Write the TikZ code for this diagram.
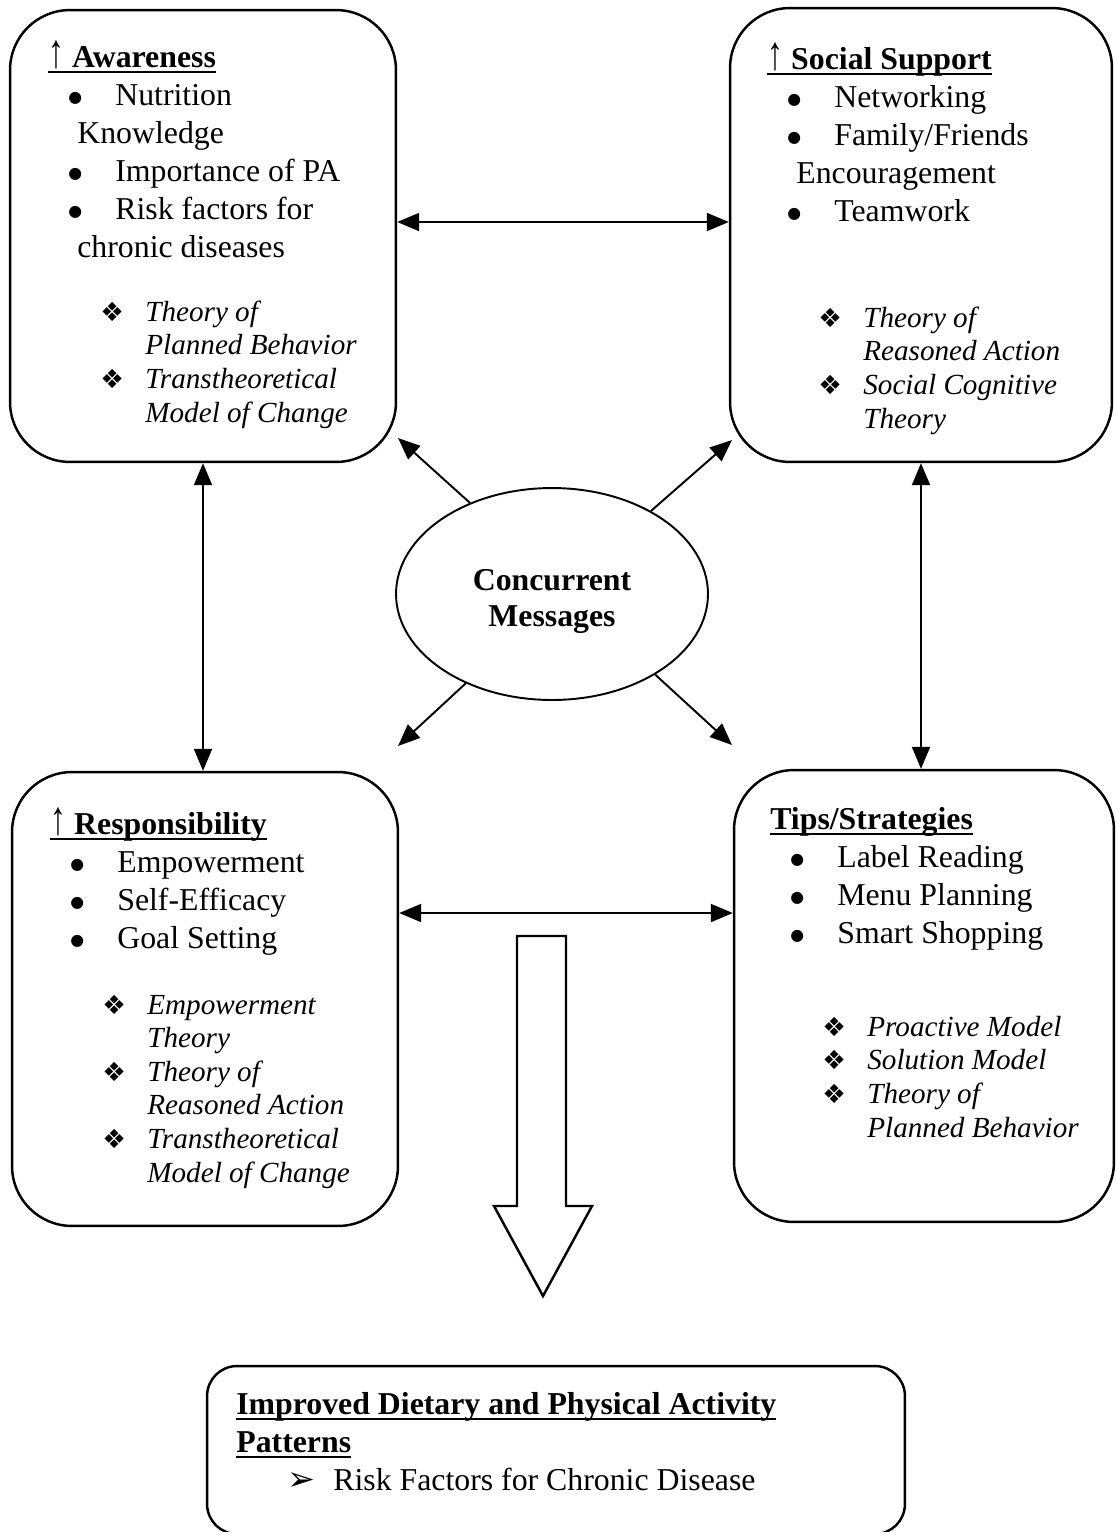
\documentclass[tikz,border=0pt]{standalone}
\usepackage{fontspec}
\setmainfont{Liberation Serif}
\newfontfamily\dingfont{DejaVu Sans}
\usetikzlibrary{positioning, arrows.meta, shapes.geometric}

\newcommand{\head}[1]{\textbf{\setbox0=\hbox{#1}\rlap{\rule[-3.4pt]{\wd0}{1.2pt}}\box0}}
\newcommand{\up}{{\mdseries\scalebox{1}[1.5]{↑}}}
\newcommand{\bdot}{\raisebox{1.6pt}{\dingfont\fontsize{9}{9}\selectfont ●}}
\newcommand{\bul}[1]{\hspace*{0.4cm}\makebox[0.94cm][l]{\bdot}#1}
\newcommand{\dia}{{\dingfont\fontsize{15}{15}\selectfont ❖}}
\newcommand{\thy}[1]{\makebox[0.9cm][l]{\dia}#1}

\begin{document}
\begin{tikzpicture}[x=0.02cm, y=-0.02cm,
  panel/.style={draw, line width=1.4pt, rounded corners=1.2cm},
  maintext/.style={anchor=base west, inner sep=0pt, align=left, font=\fontsize{18.1}{21.6}\selectfont},
  theorytext/.style={anchor=base west, inner sep=0pt, align=left, font=\fontsize{16.6}{19.1}\selectfont\itshape},
  dbl/.style={{Triangle[length=4.4mm, width=3.6mm]}-{Triangle[length=4.4mm, width=3.6mm]}, line width=1.1pt},
  arr/.style={-{Triangle[length=4.4mm, width=3.6mm]}, line width=1.1pt}]
  \useasboundingbox (0,0) rectangle (1116,1532);

  % the four panels
  \node[panel, minimum width=7.72cm, minimum height=9.04cm] (aware) at (203,236) {};
  \node[panel, minimum width=7.64cm, minimum height=9.08cm] (social) at (921,235) {};
  \node[panel, minimum width=7.72cm, minimum height=9.08cm] (resp) at (205,999) {};
  \node[panel, minimum width=7.60cm, minimum height=9.04cm] (tips) at (924,996) {};
  \node[panel, rounded corners=0.6cm, minimum width=13.96cm, minimum height=3.36cm] (result) at (556,1450) {};

  % panel texts (placed at the baseline of their last line)
  \node[maintext] (awaretxt) at (48,257) {\head{\up\ Awareness}\\ \bul{Nutrition}\\ \hspace*{0.58cm}Knowledge\\ \bul{Importance of PA}\\ \bul{Risk factors for}\\ \hspace*{0.58cm}chronic diseases};
  \node[theorytext] (awarethy) at (100,422) {\thy{Theory of}\\ \hspace*{0.9cm}Planned Behavior\\ \thy{Transtheoretical}\\ \hspace*{0.9cm}Model of Change};

  \node[maintext] (socialtxt) at (767,221) {\head{\up\ Social Support}\\ \bul{Networking}\\ \bul{Family/Friends}\\ \hspace*{0.58cm}Encouragement\\ \bul{Teamwork}};
  \node[theorytext] (socialthy) at (818,428) {\thy{Theory of}\\ \hspace*{0.9cm}Reasoned Action\\ \thy{Social Cognitive}\\ \hspace*{0.9cm}Theory};

  \node[maintext] (resptxt) at (50,948) {\head{\up\ Responsibility}\\ \bul{Empowerment}\\ \bul{Self-Efficacy}\\ \bul{Goal Setting}};
  \node[theorytext] (respthy) at (102,1182) {\thy{Empowerment}\\ \hspace*{0.9cm}Theory\\ \thy{Theory of}\\ \hspace*{0.9cm}Reasoned Action\\ \thy{Transtheoretical}\\ \hspace*{0.9cm}Model of Change};

  \node[maintext] (tipstxt) at (770,943) {\head{Tips/Strategies}\\ \bul{Label Reading}\\ \bul{Menu Planning}\\ \bul{Smart Shopping}};
  \node[theorytext] (tipsthy) at (822,1137) {\thy{Proactive Model}\\ \thy{Solution Model}\\ \thy{Theory of}\\ \hspace*{0.9cm}Planned Behavior};

  \node[maintext] (resulttxt) at (236,1490) {\head{Improved Dietary and Physical Activity}\\ \head{Patterns}\\ \hspace*{1.02cm}\makebox[0.92cm][l]{\dingfont\fontsize{19}{19}\selectfont ➢}Risk Factors for Chronic Disease};

  % centre
  \node[ellipse, draw, line width=1.1pt, minimum width=6.24cm, minimum height=4.24cm] (msg) at (552,594) {};
  \node[align=center, font=\fontsize{18.1}{20.5}\selectfont\bfseries] (msgtxt) at (552,601) {Concurrent\\Messages};

  \coordinate (ul) at (398,438);
  \coordinate (ur) at (732,440);
  \coordinate (ll) at (398,746);
  \coordinate (lr) at (732,745);

  % connectors
  \draw[dbl] ([yshift=0.28cm]aware.east) -- ([yshift=0.28cm]aware.east -| social.west);
  \draw[dbl] ([yshift=1.72cm]resp.east) -- ([yshift=1.72cm]resp.east -| tips.west);
  \draw[dbl] (aware.south) -- (aware.south |- resp.north);
  \draw[dbl] (social.south) -- (social.south |- tips.north);
  \draw[arr] (msg.132) -- (ul);
  \draw[arr] (msg.40) -- (ur);
  \draw[arr] (msg.226) -- (ll);
  \draw[arr] (msg.322) -- (lr);

  % big arrow down
  \draw[line width=1.4pt] (517,936) -- (566,936) -- (566,1206) -- (592,1206) -- (543,1296) -- (494,1206) -- (517,1206) -- cycle;
\end{tikzpicture}
\end{document}
